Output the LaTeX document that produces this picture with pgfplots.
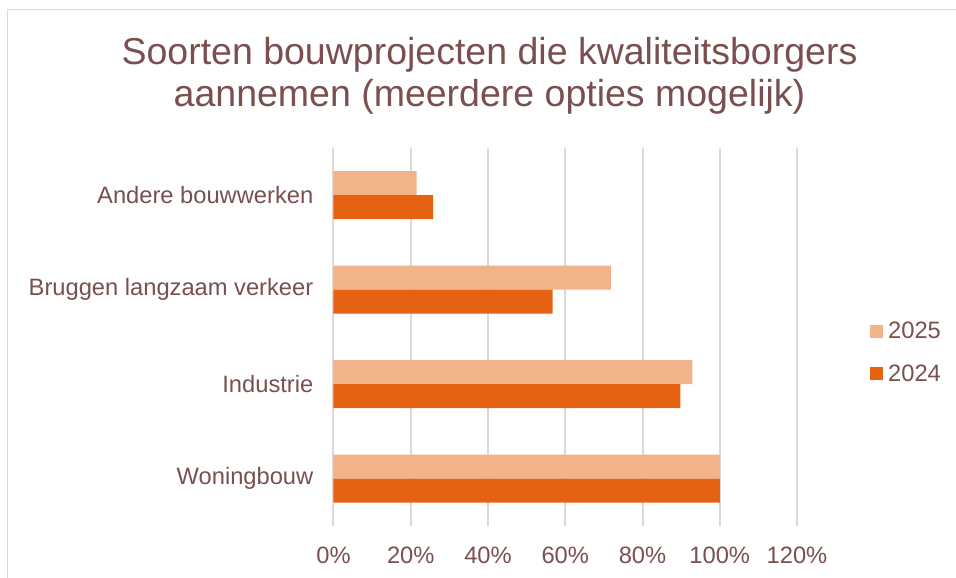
\documentclass[border=0pt]{standalone}
\usepackage{pgfplots}
\pgfplotsset{compat=1.18}
\usepackage{fontspec}
\setmainfont{Liberation Sans}
\definecolor{txt}{HTML}{7A4F4F}
\definecolor{gridc}{HTML}{E2D6D6}
\definecolor{framec}{HTML}{E4D6D4}
\definecolor{c2025}{HTML}{F2B28A}
\definecolor{c2024}{HTML}{E46212}
\begin{document}
\begin{tikzpicture}
\path[use as bounding box] (0pt,0pt) rectangle (956pt,578pt);
\draw[framec, line width=1.5pt] (7.5pt,0pt) -- (7.5pt,568.5pt) -- (956pt,568.5pt);
\node[txt, align=center, font=\fontsize{37.5}{42}\selectfont, anchor=base] at (489.5pt,471pt)
  {Soorten bouwprojecten die kwaliteitsborgers\\aannemen (meerdere opties mogelijk)};
\begin{axis}[
  at={(333.5pt,52pt)}, anchor=south west,
  scale only axis, width=463.5pt, height=378pt,
  xbar,
  xmin=0, xmax=120, ymin=-0.5, ymax=3.5,
  bar width=24pt,
  xtick={0,20,40,60,80,100,120},
  xticklabel={\pgfmathprintnumber{\tick}\%},
  ytick={0,1,2,3},
  yticklabels={Woningbouw, Industrie, Bruggen langzaam verkeer, Andere bouwwerken},
  /pgf/number format/assume math mode=true,
  xmajorgrids, major grid style={gridc, line width=2pt},
  axis line style={draw=none},
  major tick length=0pt,
  tick label style={txt, font=\fontsize{23.7}{28}\selectfont},
  yticklabel style={anchor=east, inner sep=0pt, xshift=-20pt},
  xticklabel style={anchor=base, inner sep=0pt, yshift=-38pt},
  legend style={draw=none, fill=none, at={(1.1575,0.459)}, anchor=west,
    font=\fontsize{23.7}{28}\selectfont, text=txt, inner sep=0pt,
    row sep=24pt, nodes={inner sep=0pt},
    /tikz/every even column/.style={column sep=0pt}},
  legend cell align=left,
  legend image code/.code={\fill[#1] (0pt,-6.5pt) rectangle (13pt,6.5pt); \path (18pt,0pt);},
]
\addplot[fill=c2025, draw=none, bar shift=12pt] coordinates {(100,0) (92.9,1) (71.8,2) (21.5,3)};
\addlegendentry{2025}
\addplot[fill=c2024, draw=none, bar shift=-12pt] coordinates {(100,0) (89.8,1) (56.7,2) (25.8,3)};
\addlegendentry{2024}
\end{axis}
\end{tikzpicture}
\end{document}
